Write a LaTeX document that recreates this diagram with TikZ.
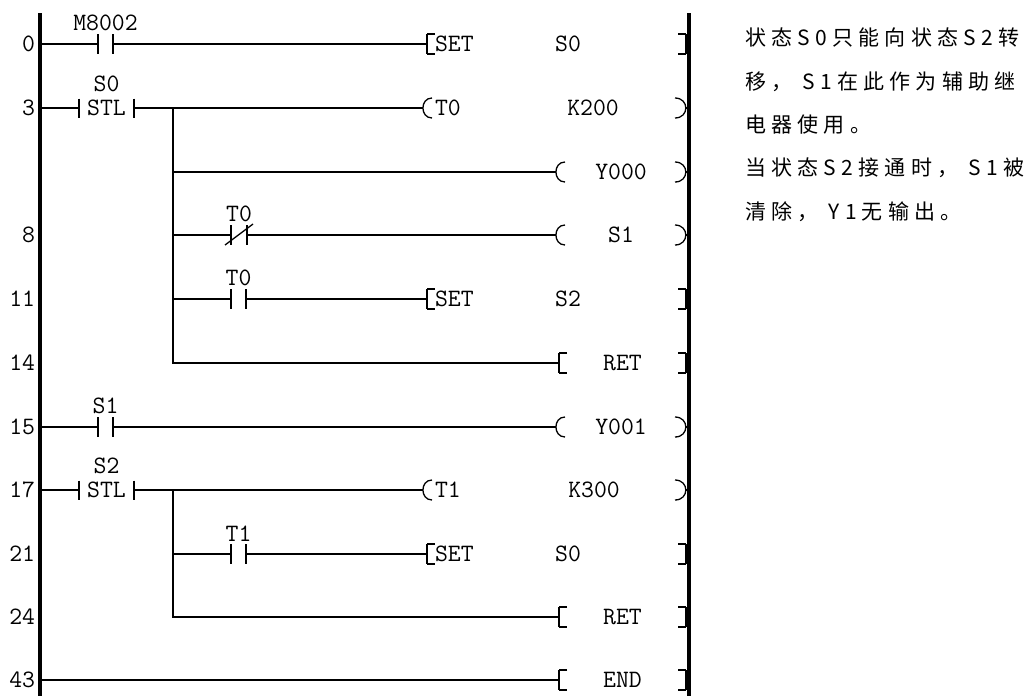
\documentclass[tikz,border=0pt]{standalone}
\usepackage{fontspec}
\usepackage{tikz}
\usetikzlibrary{positioning}
\newfontfamily\notefont[LetterSpace=25]{Noto Sans CJK SC}

\begin{document}
\begin{tikzpicture}[x=1pt, y=-1pt,
        wire/.style={line width=1.3pt},
        rail/.style={line width=4pt},
        txt/.style={font=\ttfamily\fontsize{25}{30}\selectfont, inner sep=0pt, outer sep=0pt},
        lbl/.style={txt, inner sep=1pt},
        contact/.style={inner sep=0pt, outer sep=0pt, minimum width=15pt, minimum height=20pt,
            append after command={(\tikzlastnode.north west) edge[wire] (\tikzlastnode.south west)
                (\tikzlastnode.north east) edge[wire] (\tikzlastnode.south east)}},
        nc/.style={contact, minimum width=16pt,
            append after command={([xshift=-6pt]\tikzlastnode.south west) edge[wire] ([shift={(6pt,1pt)}]\tikzlastnode.north east)}},
        stl/.style={contact, txt, minimum width=55pt, minimum height=19pt},
        coil/.style={txt, anchor=west, minimum height=20pt,
            append after command={([xshift=9pt]\tikzlastnode.north west) edge[wire, out=180, in=180, looseness=1.55] ([xshift=9pt]\tikzlastnode.south west)
                ([xshift=-11pt]\tikzlastnode.north east) edge[wire, out=0, in=0, looseness=1.85] ([xshift=-11pt]\tikzlastnode.south east)}},
        func/.style={txt, anchor=west, minimum height=20pt,
            append after command={([xshift=8pt]\tikzlastnode.north west) edge[wire] (\tikzlastnode.north west)
                (\tikzlastnode.north west) edge[wire] (\tikzlastnode.south west)
                (\tikzlastnode.south west) edge[wire] ([xshift=8pt]\tikzlastnode.south west)
                ([xshift=-8pt]\tikzlastnode.north east) edge[wire] (\tikzlastnode.north east)
                (\tikzlastnode.north east) edge[wire] (\tikzlastnode.south east)
                (\tikzlastnode.south east) edge[wire] ([xshift=-8pt]\tikzlastnode.south east)}},
        note/.style={font=\notefont\fontsize{21}{25}\selectfont, anchor=west, inner sep=0pt}]
        \useasboundingbox (0,0) rectangle (1031,696);
        \coordinate (railL) at (40,13);
        \coordinate (railLend) at (40,696);
        \coordinate (railR) at (689,13);
        \coordinate (railRend) at (689,696);
        \coordinate (bus) at (173,0);
        \draw[rail] (railL) -- (railLend);
        \draw[rail] (railR) -- (railRend);

        \node[txt, anchor=east] (n0) at (35,44) {0};
        \node[txt, anchor=east] (n3) at (35,108) {3};
        \node[txt, anchor=east] (n8) at (35,235) {8};
        \node[txt, anchor=east] (n11) at (35,299) {11};
        \node[txt, anchor=east] (n14) at (35,363) {14};
        \node[txt, anchor=east] (n15) at (35,427) {15};
        \node[txt, anchor=east] (n17) at (35,490) {17};
        \node[txt, anchor=east] (n21) at (35,554) {21};
        \node[txt, anchor=east] (n24) at (35,617) {24};
        \node[txt, anchor=east] (n43) at (35,680) {43};

        \node[contact] (m8002) at (105.5,44) {};
        \node[lbl, above=2pt of m8002] (lblM8002) {M8002};
        \node[func, minimum width=259pt] (set0) at (427,44) {};
        \node[txt, anchor=west] (set0op) at (435,44) {SET};
        \node[txt] (set0arg) at (568,44) {S0};
        \draw[wire] (railL |- m8002) -- (m8002.west) (m8002.east) -- (set0.west) (set0.east) -- (railR |- set0);

        \node[stl] (stlS0) at (106.5,108) {STL};
        \node[lbl, above=6pt of stlS0] (lblS0) {S0};
        \node[coil, minimum width=263pt] (t0coil) at (423,108) {};
        \node[txt, anchor=west] (t0name) at (435,108) {T0};
        \node[txt] (t0k) at (593,108) {K200};
        \draw[wire] (railL |- stlS0) -- (stlS0.west) (stlS0.east) -- (t0coil.west) (t0coil.east) -- (railR |- t0coil);

        \node[coil, minimum width=130pt] (y000) at (556,172) {Y000};
        \draw[wire] (bus |- y000) -- (y000.west) (y000.east) -- (railR |- y000);

        \node[nc] (t0nc) at (239,235) {};
        \node[lbl, above=2pt of t0nc] (lblT0a) {T0};
        \node[coil, minimum width=130pt] (s1coil) at (556,235) {S1};
        \draw[wire] (bus |- t0nc) -- (t0nc.west) (t0nc.east) -- (s1coil.west) (s1coil.east) -- (railR |- s1coil);

        \node[contact] (t0no) at (238.5,299) {};
        \node[lbl, above=2pt of t0no] (lblT0b) {T0};
        \node[func, minimum width=259pt] (set11) at (427,299) {};
        \node[txt, anchor=west] (set11op) at (435,299) {SET};
        \node[txt] (set11arg) at (568,299) {S2};
        \draw[wire] (bus |- t0no) -- (t0no.west) (t0no.east) -- (set11.west) (set11.east) -- (railR |- set11);

        \node[func, minimum width=127pt] (ret14) at (559,363) {RET};
        \draw[wire] (bus |- stlS0) -- (bus |- ret14) -- (ret14.west) (ret14.east) -- (railR |- ret14);

        \node[contact] (s1no) at (105.5,427) {};
        \node[lbl, above=2pt of s1no] (lblS1) {S1};
        \node[coil, minimum width=130pt] (y001) at (556,427) {Y001};
        \draw[wire] (railL |- s1no) -- (s1no.west) (s1no.east) -- (y001.west) (y001.east) -- (railR |- y001);

        \node[stl] (stlS2) at (106.5,490) {STL};
        \node[lbl, above=6pt of stlS2] (lblS2) {S2};
        \node[coil, minimum width=263pt] (t1coil) at (423,490) {};
        \node[txt, anchor=west] (t1name) at (435,490) {T1};
        \node[txt] (t1k) at (594,490) {K300};
        \draw[wire] (railL |- stlS2) -- (stlS2.west) (stlS2.east) -- (t1coil.west) (t1coil.east) -- (railR |- t1coil);

        \node[contact] (t1no) at (238.5,554) {};
        \node[lbl, above=2pt of t1no] (lblT1) {T1};
        \node[func, minimum width=259pt] (set21) at (427,554) {};
        \node[txt, anchor=west] (set21op) at (435,554) {SET};
        \node[txt] (set21arg) at (568,554) {S0};
        \draw[wire] (bus |- t1no) -- (t1no.west) (t1no.east) -- (set21.west) (set21.east) -- (railR |- set21);

        \node[func, minimum width=127pt] (ret24) at (559,617) {RET};
        \draw[wire] (bus |- stlS2) -- (bus |- ret24) -- (ret24.west) (ret24.east) -- (railR |- ret24);

        \node[func, minimum width=127pt] (end43) at (559,680) {END};
        \draw[wire] (railL |- end43) -- (end43.west) (end43.east) -- (railR |- end43);

        \node[note] (note1) at (745,38) {状态S0只能向状态S2转};
        \node[note] (note2) at (745,82) {移， S1在此作为辅助继};
        \node[note] (note3) at (745,125) {电器使用。};
        \node[note] (note4) at (745,168) {当状态S2接通时， S1被};
        \node[note] (note5) at (745,212) {清除， Y1无输出。};
    \end{tikzpicture}
\end{document}
